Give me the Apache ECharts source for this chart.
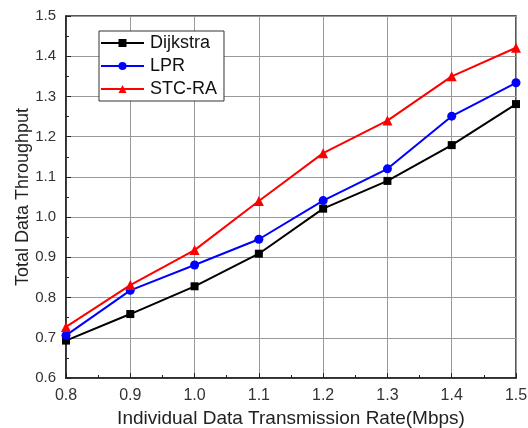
<!DOCTYPE html>
<html><head><meta charset="utf-8">
<script src="https://cdn.jsdelivr.net/npm/echarts@6/dist/echarts.min.js"></script>
<style>html,body{margin:0;padding:0;background:#fff}#c{width:528px;height:428px}</style>
</head><body><div id="c"></div>
<script>
const rates = [0.8, 0.9, 1.0, 1.1, 1.2, 1.3, 1.4, 1.5];
const dijkstra = [0.693, 0.759, 0.828, 0.909, 1.021, 1.09, 1.179, 1.281];
const lpr = [0.706, 0.818, 0.881, 0.945, 1.041, 1.12, 1.251, 1.334];
const stcra = [0.727, 0.831, 0.918, 1.04, 1.159, 1.24, 1.35, 1.421];
const xTicks = ['0.8','0.9','1.0','1.1','1.2','1.3','1.4','1.5'];
const yTicks = ['0.6','0.7','0.8','0.9','1.0','1.1','1.2','1.3','1.4','1.5'];

const font = 'Liberation Sans, Arial, sans-serif';
const chart = echarts.init(document.getElementById('c'));
const pair = arr => rates.map((r, i) => [r, arr[i]]);
chart.setOption({
  animation: false,
  backgroundColor: '#fff',
  grid: { left: 66, right: 12, top: 16, bottom: 50, show: true, borderColor: '#222', borderWidth: 1.5,
    containLabel: false, outerBoundsMode: 'none' },
  legend: {
    orient: 'vertical', left: 99, top: 31,
    backgroundColor: '#fff', borderColor: '#333', borderWidth: 1,
    padding: [3, 7, 3, 1], itemGap: 5, itemWidth: 43, itemHeight: 10,
    textStyle: { fontFamily: font, fontSize: 18, color: '#111', padding: [0, 0, 0, 1] },
    data: ['Dijkstra', 'LPR', 'STC-RA']
  },
  xAxis: {
    type: 'value', min: 0.8, max: 1.5, interval: 0.1,
    name: 'Individual Data Transmission Rate(Mbps)', nameLocation: 'middle', nameGap: 31,
    nameMoveOverlap: false,
    nameTextStyle: { fontFamily: font, fontSize: 19, color: '#222' },
    axisLine: { show: true, lineStyle: { color: '#222', width: 1.5 } },
    axisTick: { show: true, inside: true, length: 5, lineStyle: { color: '#222' } },
    minorTick: { show: true, splitNumber: 2, length: 3, lineStyle: { color: '#222' } },
    axisLabel: { fontFamily: font, fontSize: 16, color: '#333', margin: 10,
      formatter: v => xTicks[Math.round((v - 0.8) * 10)] },
    splitLine: { show: true, lineStyle: { color: '#999', width: 1 } }
  },
  yAxis: {
    type: 'value', min: 0.6, max: 1.5, interval: 0.1,
    name: 'Total Data Throughput', nameLocation: 'middle', nameGap: 34,
    nameMoveOverlap: false,
    nameTextStyle: { fontFamily: font, fontSize: 18, color: '#222' },
    axisLine: { show: true, lineStyle: { color: '#222', width: 1.5 } },
    axisTick: { show: true, inside: true, length: 5, lineStyle: { color: '#222' } },
    minorTick: { show: true, splitNumber: 2, length: 3, lineStyle: { color: '#222' } },
    axisLabel: { fontFamily: font, fontSize: 15, color: '#333', margin: 10,
      formatter: v => yTicks[Math.round((v - 0.6) * 10)] },
    splitLine: { show: true, lineStyle: { color: '#999', width: 1 } }
  },
  series: [
    { name: 'Dijkstra', type: 'line', data: pair(dijkstra), symbol: 'rect', symbolSize: 8,
      itemStyle: { color: '#000' }, lineStyle: { color: '#000', width: 2 } },
    { name: 'LPR', type: 'line', data: pair(lpr), symbol: 'circle', symbolSize: 9,
      itemStyle: { color: '#0000ff' }, lineStyle: { color: '#0000ff', width: 2 } },
    { name: 'STC-RA', type: 'line', data: pair(stcra), symbol: 'triangle', symbolSize: 10,
      itemStyle: { color: '#ff0000' }, lineStyle: { color: '#ff0000', width: 2 } }
  ]
});
</script></body></html>
